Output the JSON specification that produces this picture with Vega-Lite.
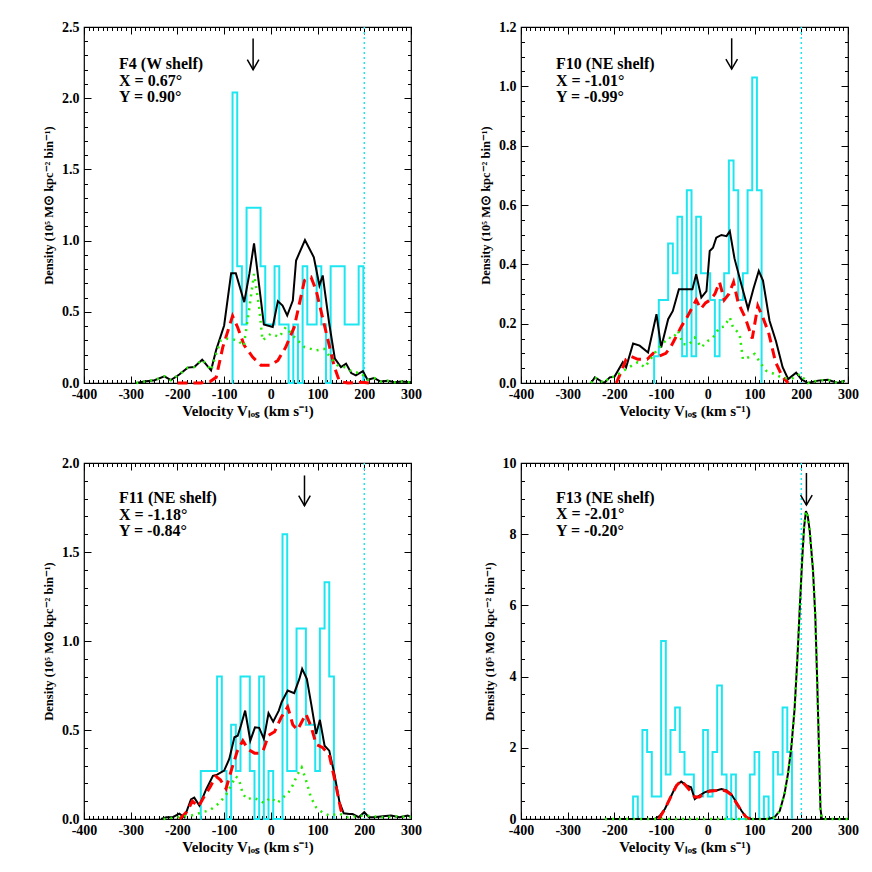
{
"$schema": "https://vega.github.io/schema/vega-lite/v6.json",
"background": "white",
"padding": {"left": 41, "top": 19, "right": 0, "bottom": 0},
"config": {
  "view": {"stroke": "black", "strokeWidth": 1.2},
  "axis": {"labelFont": "Liberation Serif", "labelFontWeight": "bold", "labelFontSize": 14, "labelColor": "black",
           "titleFont": "Liberation Serif", "titleFontWeight": "bold", "titleFontSize": 13, "titleColor": "black",
           "tickColor": "black", "tickWidth": 1, "grid": false, "domain": false, "labelFlush": false, "labelOverlap": false,
           "zindex": 1, "labelExpr": "replace(datum.label, '\u2212', '-')"},
  "axisX": {"titleFontSize": 15},
  "axisY": {"titleFontSize": 12.5},
  "text": {"font": "Liberation Serif", "fontWeight": "bold", "fontSize": 16}
},
"datasets": {
  "ann": [
    {"p": 1, "label": "F4 (W shelf)|X =  0.67°|Y =  0.90°", "tx": -325, "ty": 2.296, "av": -38, "atop": 2.42, "atip": 2.2},
    {"p": 2, "label": "F10 (NE shelf)|X = -1.01°|Y = -0.99°", "tx": -325, "ty": 1.101, "av": 51, "atop": 1.162, "atip": 1.058},
    {"p": 3, "label": "F11 (NE shelf)|X = -1.18°|Y = -0.84°", "tx": -325, "ty": 1.846, "av": 72, "atop": 1.93, "atip": 1.76},
    {"p": 4, "label": "F13 (NE shelf)|X = -2.01°|Y = -0.20°", "tx": -325, "ty": 9.25, "av": 211, "atop": 9.72, "atip": 8.82}
  ],
  "h1": [{"v":-83,"d":0},{"v":-82,"d":2.04},{"v":-72,"d":0.82},{"v":-62,"d":0.41},{"v":-52,"d":1.23},{"v":-42,"d":1.23},{"v":-32,"d":1.23},{"v":-22,"d":0.82},{"v":-12,"d":0.41},{"v":-2,"d":0.41},{"v":8,"d":0.82},{"v":18,"d":0.41},{"v":28,"d":0.41},{"v":38,"d":0},{"v":48,"d":0.41},{"v":58,"d":0},{"v":68,"d":0.82},{"v":78,"d":0.41},{"v":88,"d":0.41},{"v":98,"d":0.82},{"v":108,"d":0.41},{"v":118,"d":0},{"v":128,"d":0.82},{"v":138,"d":0.82},{"v":148,"d":0.82},{"v":158,"d":0.41},{"v":168,"d":0.41},{"v":178,"d":0.41},{"v":188,"d":0.82},{"v":198,"d":0}],
  "k1": [{"v":-288,"d":0},{"v":-271,"d":0.01},{"v":-249,"d":0.02},{"v":-228,"d":0.047},{"v":-214,"d":0.02},{"v":-196,"d":0.06},{"v":-178,"d":0.108},{"v":-164,"d":0.112},{"v":-147,"d":0.164},{"v":-128,"d":0.089},{"v":-117,"d":0.233},{"v":-100,"d":0.404},{"v":-85,"d":0.771},{"v":-75,"d":0.771},{"v":-57,"d":0.568},{"v":-46,"d":0.766},{"v":-36,"d":0.98},{"v":-15,"d":0.411},{"v":4,"d":0.393},{"v":15,"d":0.575},{"v":25,"d":0.544},{"v":35,"d":0.474},{"v":47,"d":0.579},{"v":54,"d":0.86},{"v":73,"d":1.004},{"v":92,"d":0.883},{"v":104,"d":0.685},{"v":111,"d":0.755},{"v":125,"d":0.416},{"v":137,"d":0.171},{"v":150,"d":0.112},{"v":161,"d":0.136},{"v":172,"d":0.07},{"v":182,"d":0.054},{"v":197,"d":0.084},{"v":207,"d":0.023},{"v":221,"d":0.035},{"v":235,"d":0.01},{"v":250,"d":0.015},{"v":265,"d":0.005},{"v":280,"d":0.01},{"v":300,"d":0.005}],
  "r1": [{"v":-200,"d":0},{"v":-150,"d":0},{"v":-130,"d":0.01},{"v":-117,"d":0.04},{"v":-103,"d":0.25},{"v":-82,"d":0.47},{"v":-71,"d":0.39},{"v":-57,"d":0.264},{"v":-39,"d":0.182},{"v":-21,"d":0.124},{"v":0,"d":0.124},{"v":15,"d":0.159},{"v":32,"d":0.252},{"v":50,"d":0.392},{"v":72,"d":0.72},{"v":86,"d":0.743},{"v":97,"d":0.65},{"v":107,"d":0.51},{"v":125,"d":0.264},{"v":136,"d":0.112},{"v":147,"d":0.01},{"v":165,"d":0},{"v":195,"d":0.005},{"v":210,"d":0}],
  "g1": [{"v":-288,"d":0},{"v":-271,"d":0.01},{"v":-249,"d":0.02},{"v":-228,"d":0.047},{"v":-214,"d":0.02},{"v":-196,"d":0.06},{"v":-178,"d":0.108},{"v":-164,"d":0.112},{"v":-147,"d":0.164},{"v":-128,"d":0.089},{"v":-117,"d":0.206},{"v":-107,"d":0.3},{"v":-92,"d":0.311},{"v":-71,"d":0.3},{"v":-58,"d":0.26},{"v":-45,"d":0.55},{"v":-36,"d":0.766},{"v":-25,"d":0.533},{"v":-18,"d":0.3},{"v":0,"d":0.346},{"v":18,"d":0.323},{"v":32,"d":0.392},{"v":50,"d":0.323},{"v":72,"d":0.252},{"v":97,"d":0.229},{"v":114,"d":0.24},{"v":129,"d":0.171},{"v":143,"d":0.124},{"v":157,"d":0.112},{"v":175,"d":0.077},{"v":193,"d":0.07},{"v":207,"d":0.023},{"v":221,"d":0.035},{"v":235,"d":0.01},{"v":250,"d":0.015},{"v":265,"d":0.005},{"v":280,"d":0.01},{"v":300,"d":0.005}],
  "h2": [{"v":-116,"d":0},{"v":-115,"d":0.09},{"v":-105,"d":0.28},{"v":-95,"d":0.28},{"v":-85,"d":0.47},{"v":-75,"d":0.37},{"v":-65,"d":0.56},{"v":-55,"d":0.09},{"v":-45,"d":0.65},{"v":-35,"d":0.09},{"v":-25,"d":0.56},{"v":-15,"d":0.37},{"v":-5,"d":0.37},{"v":5,"d":0.28},{"v":15,"d":0.09},{"v":25,"d":0.28},{"v":35,"d":0.37},{"v":45,"d":0.75},{"v":55,"d":0.65},{"v":65,"d":0.28},{"v":75,"d":0.37},{"v":85,"d":0.65},{"v":95,"d":1.03},{"v":105,"d":0.65},{"v":115,"d":0}],
  "k2": [{"v":-250,"d":0},{"v":-242,"d":0.019},{"v":-222,"d":0},{"v":-210,"d":0.019},{"v":-200,"d":0.021},{"v":-182,"d":0.07},{"v":-175,"d":0.053},{"v":-160,"d":0.133},{"v":-146,"d":0.126},{"v":-128,"d":0.103},{"v":-110,"d":0.232},{"v":-100,"d":0.12},{"v":-85,"d":0.215},{"v":-75,"d":0.243},{"v":-62,"d":0.316},{"v":-46,"d":0.316},{"v":-33,"d":0.316},{"v":-25,"d":0.367},{"v":-14,"d":0.288},{"v":-3,"d":0.31},{"v":4,"d":0.445},{"v":11,"d":0.456},{"v":18,"d":0.49},{"v":29,"d":0.499},{"v":40,"d":0.495},{"v":47,"d":0.512},{"v":57,"d":0.42},{"v":72,"d":0.33},{"v":86,"d":0.25},{"v":98,"d":0.32},{"v":109,"d":0.378},{"v":118,"d":0.345},{"v":132,"d":0.21},{"v":146,"d":0.14},{"v":160,"d":0.053},{"v":172,"d":0.013},{"v":189,"d":0.035},{"v":200,"d":0.013},{"v":214,"d":0},{"v":236,"d":0.008},{"v":257,"d":0.011},{"v":278,"d":0},{"v":293,"d":0.008}],
  "r2": [{"v":-196,"d":0},{"v":-185,"d":0.04},{"v":-175,"d":0.08},{"v":-165,"d":0.09},{"v":-150,"d":0.08},{"v":-130,"d":0.08},{"v":-117,"d":0.1},{"v":-105,"d":0.09},{"v":-90,"d":0.1},{"v":-80,"d":0.12},{"v":-70,"d":0.15},{"v":-57,"d":0.19},{"v":-45,"d":0.22},{"v":-35,"d":0.25},{"v":-25,"d":0.28},{"v":-15,"d":0.25},{"v":-5,"d":0.27},{"v":5,"d":0.28},{"v":15,"d":0.3},{"v":25,"d":0.34},{"v":35,"d":0.28},{"v":45,"d":0.3},{"v":55,"d":0.34},{"v":65,"d":0.27},{"v":80,"d":0.22},{"v":95,"d":0.15},{"v":107,"d":0.26},{"v":118,"d":0.22},{"v":130,"d":0.17},{"v":145,"d":0.07},{"v":160,"d":0.02},{"v":172,"d":0}],
  "g2": [{"v":-250,"d":0},{"v":-242,"d":0.019},{"v":-222,"d":0},{"v":-210,"d":0.019},{"v":-200,"d":0.021},{"v":-175,"d":0.047},{"v":-150,"d":0.07},{"v":-135,"d":0.053},{"v":-125,"d":0.075},{"v":-110,"d":0.109},{"v":-100,"d":0.126},{"v":-85,"d":0.153},{"v":-75,"d":0.15},{"v":-64,"d":0.176},{"v":-53,"d":0.131},{"v":-40,"d":0.13},{"v":-28,"d":0.153},{"v":-14,"d":0.12},{"v":0,"d":0.142},{"v":11,"d":0.153},{"v":25,"d":0.187},{"v":35,"d":0.19},{"v":47,"d":0.221},{"v":54,"d":0.187},{"v":68,"d":0.165},{"v":75,"d":0.08},{"v":86,"d":0.086},{"v":100,"d":0.098},{"v":114,"d":0.064},{"v":125,"d":0.041},{"v":143,"d":0.03},{"v":157,"d":0.019},{"v":179,"d":0.014},{"v":197,"d":0.03},{"v":214,"d":0},{"v":236,"d":0.008},{"v":257,"d":0.011},{"v":278,"d":0},{"v":293,"d":0.008}],
  "h3": [{"v":-151,"d":0},{"v":-150,"d":0.27},{"v":-115,"d":0.8},{"v":-105,"d":0.27},{"v":-95,"d":0},{"v":-85,"d":0.53},{"v":-75,"d":0.27},{"v":-65,"d":0.8},{"v":-45,"d":0.27},{"v":-35,"d":0},{"v":-25,"d":0.8},{"v":-15,"d":0},{"v":-5,"d":0.27},{"v":5,"d":0},{"v":25,"d":1.6},{"v":35,"d":0.27},{"v":55,"d":1.07},{"v":75,"d":0.53},{"v":95,"d":0.27},{"v":105,"d":1.07},{"v":115,"d":1.33},{"v":125,"d":0.8},{"v":135,"d":0}],
  "k3": [{"v":-235,"d":0},{"v":-224,"d":0.01},{"v":-210,"d":0.01},{"v":-196,"d":0.03},{"v":-185,"d":0.01},{"v":-171,"d":0.11},{"v":-164,"d":0.12},{"v":-153,"d":0.075},{"v":-139,"d":0.163},{"v":-124,"d":0.243},{"v":-115,"d":0.249},{"v":-100,"d":0.272},{"v":-89,"d":0.337},{"v":-78,"d":0.459},{"v":-71,"d":0.468},{"v":-64,"d":0.525},{"v":-55,"d":0.609},{"v":-44,"d":0.44},{"v":-34,"d":0.515},{"v":-25,"d":0.512},{"v":-15,"d":0.45},{"v":-5,"d":0.594},{"v":5,"d":0.547},{"v":17,"d":0.609},{"v":23,"d":0.656},{"v":36,"d":0.722},{"v":50,"d":0.707},{"v":61,"d":0.787},{"v":67,"d":0.843},{"v":77,"d":0.787},{"v":87,"d":0.637},{"v":97,"d":0.478},{"v":105,"d":0.557},{"v":115,"d":0.412},{"v":125,"d":0.384},{"v":136,"d":0.253},{"v":147,"d":0.093},{"v":156,"d":0.032},{"v":168,"d":0.028},{"v":175,"d":0.028},{"v":188,"d":0.01},{"v":200,"d":0.038},{"v":210,"d":0.01},{"v":221,"d":0.01},{"v":240,"d":0.015},{"v":257,"d":0.02},{"v":275,"d":0.01},{"v":293,"d":0.02},{"v":300,"d":0.01}],
  "r3": [{"v":-195,"d":0},{"v":-180,"d":0.04},{"v":-168,"d":0.1},{"v":-155,"d":0.07},{"v":-142,"d":0.13},{"v":-130,"d":0.18},{"v":-118,"d":0.24},{"v":-108,"d":0.22},{"v":-96,"d":0.17},{"v":-85,"d":0.27},{"v":-72,"d":0.38},{"v":-60,"d":0.44},{"v":-48,"d":0.39},{"v":-35,"d":0.37},{"v":-25,"d":0.37},{"v":-17,"d":0.38},{"v":-5,"d":0.47},{"v":8,"d":0.49},{"v":22,"d":0.57},{"v":36,"d":0.63},{"v":47,"d":0.53},{"v":57,"d":0.5},{"v":75,"d":0.59},{"v":86,"d":0.52},{"v":97,"d":0.42},{"v":111,"d":0.4},{"v":125,"d":0.36},{"v":136,"d":0.23},{"v":150,"d":0.05},{"v":157,"d":0.01}],
  "g3": [{"v":-230,"d":0},{"v":-200,"d":0.01},{"v":-170,"d":0.02},{"v":-150,"d":0.035},{"v":-130,"d":0.05},{"v":-110,"d":0.09},{"v":-95,"d":0.14},{"v":-85,"d":0.19},{"v":-75,"d":0.24},{"v":-68,"d":0.22},{"v":-60,"d":0.14},{"v":-50,"d":0.11},{"v":-40,"d":0.12},{"v":-28,"d":0.11},{"v":-15,"d":0.09},{"v":0,"d":0.12},{"v":14,"d":0.09},{"v":25,"d":0.12},{"v":36,"d":0.14},{"v":47,"d":0.19},{"v":57,"d":0.25},{"v":66,"d":0.29},{"v":75,"d":0.22},{"v":86,"d":0.12},{"v":97,"d":0.065},{"v":111,"d":0.035},{"v":125,"d":0.02},{"v":147,"d":0.03},{"v":165,"d":0.01},{"v":200,"d":0.02},{"v":240,"d":0.01},{"v":270,"d":0.015},{"v":300,"d":0.01}],
  "h4": [{"v":-161,"d":0},{"v":-160,"d":0.63},{"v":-150,"d":0},{"v":-140,"d":2.5},{"v":-130,"d":1.88},{"v":-120,"d":0.63},{"v":-100,"d":5.0},{"v":-90,"d":1.25},{"v":-80,"d":2.5},{"v":-70,"d":3.13},{"v":-60,"d":1.88},{"v":-50,"d":1.25},{"v":-30,"d":0.63},{"v":-10,"d":2.5},{"v":0,"d":0.63},{"v":10,"d":1.88},{"v":20,"d":3.75},{"v":30,"d":1.25},{"v":40,"d":0},{"v":50,"d":1.25},{"v":60,"d":0},{"v":90,"d":1.25},{"v":100,"d":1.88},{"v":110,"d":0},{"v":120,"d":0.63},{"v":130,"d":0},{"v":140,"d":1.88},{"v":150,"d":1.25},{"v":160,"d":3.13},{"v":170,"d":1.88},{"v":180,"d":0}],
  "k4": [{"v":-220,"d":0},{"v":-114,"d":0},{"v":-103,"d":0.09},{"v":-92,"d":0.28},{"v":-78,"d":0.66},{"v":-68,"d":0.94},{"v":-57,"d":1.05},{"v":-46,"d":0.94},{"v":-36,"d":0.89},{"v":-28,"d":0.56},{"v":-18,"d":0.66},{"v":-7,"d":0.75},{"v":4,"d":0.8},{"v":18,"d":0.8},{"v":29,"d":0.84},{"v":40,"d":0.8},{"v":50,"d":0.7},{"v":61,"d":0.47},{"v":72,"d":0.23},{"v":82,"d":0.05},{"v":93,"d":0},{"v":129,"d":0},{"v":143,"d":0.05},{"v":154,"d":0.23},{"v":164,"d":0.7},{"v":171.5,"d":1.27},{"v":178.6,"d":2.0},{"v":185.7,"d":3.1},{"v":192,"d":4.6},{"v":197,"d":6.0},{"v":202,"d":7.3},{"v":206,"d":8.2},{"v":210,"d":8.65},{"v":214,"d":8.5},{"v":218,"d":8.1},{"v":225,"d":7.0},{"v":230,"d":5.7},{"v":234,"d":3.9},{"v":238,"d":1.9},{"v":241,"d":0.3},{"v":244,"d":0},{"v":300,"d":0}],
  "r4": [{"v":-105,"d":0},{"v":-92,"d":0.28},{"v":-78,"d":0.66},{"v":-67,"d":0.94},{"v":-57,"d":1.08},{"v":-46,"d":0.92},{"v":-35,"d":0.75},{"v":-28,"d":0.62},{"v":-18,"d":0.62},{"v":-7,"d":0.72},{"v":4,"d":0.78},{"v":18,"d":0.8},{"v":29,"d":0.82},{"v":40,"d":0.78},{"v":50,"d":0.68},{"v":61,"d":0.45},{"v":72,"d":0.22},{"v":82,"d":0.05},{"v":90,"d":0}],
  "g4": [{"v":-220,"d":0},{"v":135,"d":0},{"v":143,"d":0.05},{"v":154,"d":0.23},{"v":164,"d":0.7},{"v":171.5,"d":1.27},{"v":178.6,"d":2.0},{"v":185.7,"d":3.1},{"v":192,"d":4.6},{"v":197,"d":6.0},{"v":202,"d":7.3},{"v":206,"d":8.2},{"v":210,"d":8.65},{"v":214,"d":8.5},{"v":218,"d":8.1},{"v":225,"d":7.0},{"v":230,"d":5.7},{"v":234,"d":3.9},{"v":238,"d":1.9},{"v":241,"d":0.3},{"v":244,"d":0},{"v":300,"d":0}]
},
"columns": 2,
"spacing": {"row": 80, "column": 110},
"bounds": "flush",
"concat": [
  {"width": 327, "height": 356, "resolve": {"axis": {"x": "independent", "y": "independent"}},
   "layer": [
    {"data": {"name": "h1"}, "mark": {"type": "line", "interpolate": "step-after", "color": "#1ee6f0", "strokeWidth": 2},
     "encoding": {"x": {"field": "v", "type": "quantitative", "scale": {"domain": [-400, 300], "nice": false, "zero": false},
                        "axis": {"orient": "bottom", "values": [-400,-300,-200,-100,0,100,200,300], "tickSize": -7, "labelPadding": 11, "format": "d", "title": "Velocity Vₗₒₛ (km s⁻¹)", "titlePadding": 2}},
                  "y": {"field": "d", "type": "quantitative", "scale": {"domain": [0, 2.5], "nice": false, "zero": false},
                        "axis": {"orient": "left", "values": [0,0.5,1,1.5,2,2.5], "tickSize": -7, "labelPadding": 12, "format": ".1f", "title": "Density (10⁵ M⊙ kpc⁻² bin⁻¹)", "titlePadding": 6}}}},
    {"data": {"name": "ann"}, "transform": [{"filter": "datum.p == 1"}], "mark": {"type": "rule", "color": "#1ee6f0", "strokeDash": [2, 3], "strokeWidth": 1.5},
     "encoding": {"x": {"datum": 200, "type": "quantitative", "axis": null}}},
    {"data": {"name": "k1"}, "mark": {"type": "line", "color": "black", "strokeWidth": 2},
     "encoding": {"x": {"field": "v", "type": "quantitative", "axis": {"orient": "bottom", "tickCount": 70, "tickSize": -3.5, "labels": false, "title": null}},
                  "y": {"field": "d", "type": "quantitative", "axis": {"orient": "left", "tickCount": 25, "tickSize": -3.5, "labels": false, "title": null}}}},
    {"data": {"name": "r1"}, "mark": {"type": "line", "color": "#ff0000", "strokeWidth": 3, "strokeDash": [10, 6]},
     "encoding": {"x": {"field": "v", "type": "quantitative", "axis": {"orient": "top", "values": [-400,-300,-200,-100,0,100,200,300], "tickSize": -7, "labels": false, "title": null}},
                  "y": {"field": "d", "type": "quantitative", "axis": {"orient": "right", "values": [0,0.5,1,1.5,2,2.5], "tickSize": -7, "labels": false, "title": null}}}},
    {"data": {"name": "g1"}, "mark": {"type": "line", "color": "#22ee00", "strokeWidth": 2.5, "strokeDash": [2, 5]},
     "encoding": {"x": {"field": "v", "type": "quantitative", "axis": {"orient": "top", "tickCount": 70, "tickSize": -3.5, "labels": false, "title": null}},
                  "y": {"field": "d", "type": "quantitative", "axis": {"orient": "right", "tickCount": 25, "tickSize": -3.5, "labels": false, "title": null}}}},
    {"data": {"name": "ann"}, "transform": [{"filter": "datum.p == 1"}], "mark": {"type": "rule", "color": "black", "strokeWidth": 1.5},
     "encoding": {"x": {"field": "av", "type": "quantitative", "axis": null}, "y": {"field": "atop", "type": "quantitative", "axis": null}, "y2": {"field": "atip"}}},
    {"data": {"name": "ann"}, "transform": [{"filter": "datum.p == 1"}], "mark": {"type": "point", "shape": "M-0.58,-1L0,0L0.58,-1", "filled": false, "stroke": "black", "strokeWidth": 1.5, "size": 400, "opacity": 1},
     "encoding": {"x": {"field": "av", "type": "quantitative", "axis": null}, "y": {"field": "atip", "type": "quantitative", "axis": null}}},
    {"data": {"name": "ann"}, "transform": [{"filter": "datum.p == 1"}], "mark": {"type": "text", "align": "left", "baseline": "top", "lineBreak": "|", "lineHeight": 16.5, "color": "black"},
     "encoding": {"x": {"field": "tx", "type": "quantitative", "axis": null}, "y": {"field": "ty", "type": "quantitative", "axis": null}, "text": {"field": "label"}}}
   ]},
  {"width": 327, "height": 356, "resolve": {"axis": {"x": "independent", "y": "independent"}},
   "layer": [
    {"data": {"name": "h2"}, "mark": {"type": "line", "interpolate": "step-after", "color": "#1ee6f0", "strokeWidth": 2},
     "encoding": {"x": {"field": "v", "type": "quantitative", "scale": {"domain": [-400, 300], "nice": false, "zero": false},
                        "axis": {"orient": "bottom", "values": [-400,-300,-200,-100,0,100,200,300], "tickSize": -7, "labelPadding": 11, "format": "d", "title": "Velocity Vₗₒₛ (km s⁻¹)", "titlePadding": 2}},
                  "y": {"field": "d", "type": "quantitative", "scale": {"domain": [0, 1.2], "nice": false, "zero": false},
                        "axis": {"orient": "left", "values": [0,0.2,0.4,0.6,0.8,1,1.2], "tickSize": -7, "labelPadding": 12, "format": ".1f", "title": "Density (10⁵ M⊙ kpc⁻² bin⁻¹)", "titlePadding": 6}}}},
    {"data": {"name": "ann"}, "transform": [{"filter": "datum.p == 2"}], "mark": {"type": "rule", "color": "#1ee6f0", "strokeDash": [2, 3], "strokeWidth": 1.5},
     "encoding": {"x": {"datum": 200, "type": "quantitative", "axis": null}}},
    {"data": {"name": "k2"}, "mark": {"type": "line", "color": "black", "strokeWidth": 2},
     "encoding": {"x": {"field": "v", "type": "quantitative", "axis": {"orient": "bottom", "tickCount": 70, "tickSize": -3.5, "labels": false, "title": null}},
                  "y": {"field": "d", "type": "quantitative", "axis": {"orient": "left", "tickCount": 24, "tickSize": -3.5, "labels": false, "title": null}}}},
    {"data": {"name": "r2"}, "mark": {"type": "line", "color": "#ff0000", "strokeWidth": 3, "strokeDash": [10, 6]},
     "encoding": {"x": {"field": "v", "type": "quantitative", "axis": {"orient": "top", "values": [-400,-300,-200,-100,0,100,200,300], "tickSize": -7, "labels": false, "title": null}},
                  "y": {"field": "d", "type": "quantitative", "axis": {"orient": "right", "values": [0,0.2,0.4,0.6,0.8,1,1.2], "tickSize": -7, "labels": false, "title": null}}}},
    {"data": {"name": "g2"}, "mark": {"type": "line", "color": "#22ee00", "strokeWidth": 2.5, "strokeDash": [2, 5]},
     "encoding": {"x": {"field": "v", "type": "quantitative", "axis": {"orient": "top", "tickCount": 70, "tickSize": -3.5, "labels": false, "title": null}},
                  "y": {"field": "d", "type": "quantitative", "axis": {"orient": "right", "tickCount": 24, "tickSize": -3.5, "labels": false, "title": null}}}},
    {"data": {"name": "ann"}, "transform": [{"filter": "datum.p == 2"}], "mark": {"type": "rule", "color": "black", "strokeWidth": 1.5},
     "encoding": {"x": {"field": "av", "type": "quantitative", "axis": null}, "y": {"field": "atop", "type": "quantitative", "axis": null}, "y2": {"field": "atip"}}},
    {"data": {"name": "ann"}, "transform": [{"filter": "datum.p == 2"}], "mark": {"type": "point", "shape": "M-0.58,-1L0,0L0.58,-1", "filled": false, "stroke": "black", "strokeWidth": 1.5, "size": 400, "opacity": 1},
     "encoding": {"x": {"field": "av", "type": "quantitative", "axis": null}, "y": {"field": "atip", "type": "quantitative", "axis": null}}},
    {"data": {"name": "ann"}, "transform": [{"filter": "datum.p == 2"}], "mark": {"type": "text", "align": "left", "baseline": "top", "lineBreak": "|", "lineHeight": 16.5, "color": "black"},
     "encoding": {"x": {"field": "tx", "type": "quantitative", "axis": null}, "y": {"field": "ty", "type": "quantitative", "axis": null}, "text": {"field": "label"}}}
   ]},
  {"width": 327, "height": 356, "resolve": {"axis": {"x": "independent", "y": "independent"}},
   "layer": [
    {"data": {"name": "h3"}, "mark": {"type": "line", "interpolate": "step-after", "color": "#1ee6f0", "strokeWidth": 2},
     "encoding": {"x": {"field": "v", "type": "quantitative", "scale": {"domain": [-400, 300], "nice": false, "zero": false},
                        "axis": {"orient": "bottom", "values": [-400,-300,-200,-100,0,100,200,300], "tickSize": -7, "labelPadding": 11, "format": "d", "title": "Velocity Vₗₒₛ (km s⁻¹)", "titlePadding": 2}},
                  "y": {"field": "d", "type": "quantitative", "scale": {"domain": [0, 2], "nice": false, "zero": false},
                        "axis": {"orient": "left", "values": [0,0.5,1,1.5,2], "tickSize": -7, "labelPadding": 12, "format": ".1f", "title": "Density (10⁵ M⊙ kpc⁻² bin⁻¹)", "titlePadding": 6}}}},
    {"data": {"name": "ann"}, "transform": [{"filter": "datum.p == 3"}], "mark": {"type": "rule", "color": "#1ee6f0", "strokeDash": [2, 3], "strokeWidth": 1.5},
     "encoding": {"x": {"datum": 200, "type": "quantitative", "axis": null}}},
    {"data": {"name": "k3"}, "mark": {"type": "line", "color": "black", "strokeWidth": 2},
     "encoding": {"x": {"field": "v", "type": "quantitative", "axis": {"orient": "bottom", "tickCount": 70, "tickSize": -3.5, "labels": false, "title": null}},
                  "y": {"field": "d", "type": "quantitative", "axis": {"orient": "left", "tickCount": 20, "tickSize": -3.5, "labels": false, "title": null}}}},
    {"data": {"name": "r3"}, "mark": {"type": "line", "color": "#ff0000", "strokeWidth": 3, "strokeDash": [10, 6]},
     "encoding": {"x": {"field": "v", "type": "quantitative", "axis": {"orient": "top", "values": [-400,-300,-200,-100,0,100,200,300], "tickSize": -7, "labels": false, "title": null}},
                  "y": {"field": "d", "type": "quantitative", "axis": {"orient": "right", "values": [0,0.5,1,1.5,2], "tickSize": -7, "labels": false, "title": null}}}},
    {"data": {"name": "g3"}, "mark": {"type": "line", "color": "#22ee00", "strokeWidth": 2.5, "strokeDash": [2, 5]},
     "encoding": {"x": {"field": "v", "type": "quantitative", "axis": {"orient": "top", "tickCount": 70, "tickSize": -3.5, "labels": false, "title": null}},
                  "y": {"field": "d", "type": "quantitative", "axis": {"orient": "right", "tickCount": 20, "tickSize": -3.5, "labels": false, "title": null}}}},
    {"data": {"name": "ann"}, "transform": [{"filter": "datum.p == 3"}], "mark": {"type": "rule", "color": "black", "strokeWidth": 1.5},
     "encoding": {"x": {"field": "av", "type": "quantitative", "axis": null}, "y": {"field": "atop", "type": "quantitative", "axis": null}, "y2": {"field": "atip"}}},
    {"data": {"name": "ann"}, "transform": [{"filter": "datum.p == 3"}], "mark": {"type": "point", "shape": "M-0.58,-1L0,0L0.58,-1", "filled": false, "stroke": "black", "strokeWidth": 1.5, "size": 400, "opacity": 1},
     "encoding": {"x": {"field": "av", "type": "quantitative", "axis": null}, "y": {"field": "atip", "type": "quantitative", "axis": null}}},
    {"data": {"name": "ann"}, "transform": [{"filter": "datum.p == 3"}], "mark": {"type": "text", "align": "left", "baseline": "top", "lineBreak": "|", "lineHeight": 16.5, "color": "black"},
     "encoding": {"x": {"field": "tx", "type": "quantitative", "axis": null}, "y": {"field": "ty", "type": "quantitative", "axis": null}, "text": {"field": "label"}}}
   ]},
  {"width": 327, "height": 356, "resolve": {"axis": {"x": "independent", "y": "independent"}},
   "layer": [
    {"data": {"name": "h4"}, "mark": {"type": "line", "interpolate": "step-after", "color": "#1ee6f0", "strokeWidth": 2},
     "encoding": {"x": {"field": "v", "type": "quantitative", "scale": {"domain": [-400, 300], "nice": false, "zero": false},
                        "axis": {"orient": "bottom", "values": [-400,-300,-200,-100,0,100,200,300], "tickSize": -7, "labelPadding": 11, "format": "d", "title": "Velocity Vₗₒₛ (km s⁻¹)", "titlePadding": 2}},
                  "y": {"field": "d", "type": "quantitative", "scale": {"domain": [0, 10], "nice": false, "zero": false},
                        "axis": {"orient": "left", "values": [0,2,4,6,8,10], "tickSize": -7, "labelPadding": 12, "format": "d", "title": "Density (10⁵ M⊙ kpc⁻² bin⁻¹)", "titlePadding": 6}}}},
    {"data": {"name": "ann"}, "transform": [{"filter": "datum.p == 4"}], "mark": {"type": "rule", "color": "#1ee6f0", "strokeDash": [2, 3], "strokeWidth": 1.5},
     "encoding": {"x": {"datum": 200, "type": "quantitative", "axis": null}}},
    {"data": {"name": "k4"}, "mark": {"type": "line", "color": "black", "strokeWidth": 2},
     "encoding": {"x": {"field": "v", "type": "quantitative", "axis": {"orient": "bottom", "tickCount": 70, "tickSize": -3.5, "labels": false, "title": null}},
                  "y": {"field": "d", "type": "quantitative", "axis": {"orient": "left", "tickCount": 20, "tickSize": -3.5, "labels": false, "title": null}}}},
    {"data": {"name": "r4"}, "mark": {"type": "line", "color": "#ff0000", "strokeWidth": 3, "strokeDash": [10, 6]},
     "encoding": {"x": {"field": "v", "type": "quantitative", "axis": {"orient": "top", "values": [-400,-300,-200,-100,0,100,200,300], "tickSize": -7, "labels": false, "title": null}},
                  "y": {"field": "d", "type": "quantitative", "axis": {"orient": "right", "values": [0,2,4,6,8,10], "tickSize": -7, "labels": false, "title": null}}}},
    {"data": {"name": "g4"}, "mark": {"type": "line", "color": "#22ee00", "strokeWidth": 2.5, "strokeDash": [2, 5]},
     "encoding": {"x": {"field": "v", "type": "quantitative", "axis": {"orient": "top", "tickCount": 70, "tickSize": -3.5, "labels": false, "title": null}},
                  "y": {"field": "d", "type": "quantitative", "axis": {"orient": "right", "tickCount": 20, "tickSize": -3.5, "labels": false, "title": null}}}},
    {"data": {"name": "ann"}, "transform": [{"filter": "datum.p == 4"}], "mark": {"type": "rule", "color": "black", "strokeWidth": 1.5},
     "encoding": {"x": {"field": "av", "type": "quantitative", "axis": null}, "y": {"field": "atop", "type": "quantitative", "axis": null}, "y2": {"field": "atip"}}},
    {"data": {"name": "ann"}, "transform": [{"filter": "datum.p == 4"}], "mark": {"type": "point", "shape": "M-0.58,-1L0,0L0.58,-1", "filled": false, "stroke": "black", "strokeWidth": 1.5, "size": 400, "opacity": 1},
     "encoding": {"x": {"field": "av", "type": "quantitative", "axis": null}, "y": {"field": "atip", "type": "quantitative", "axis": null}}},
    {"data": {"name": "ann"}, "transform": [{"filter": "datum.p == 4"}], "mark": {"type": "text", "align": "left", "baseline": "top", "lineBreak": "|", "lineHeight": 16.5, "color": "black"},
     "encoding": {"x": {"field": "tx", "type": "quantitative", "axis": null}, "y": {"field": "ty", "type": "quantitative", "axis": null}, "text": {"field": "label"}}}
   ]}
]
}
